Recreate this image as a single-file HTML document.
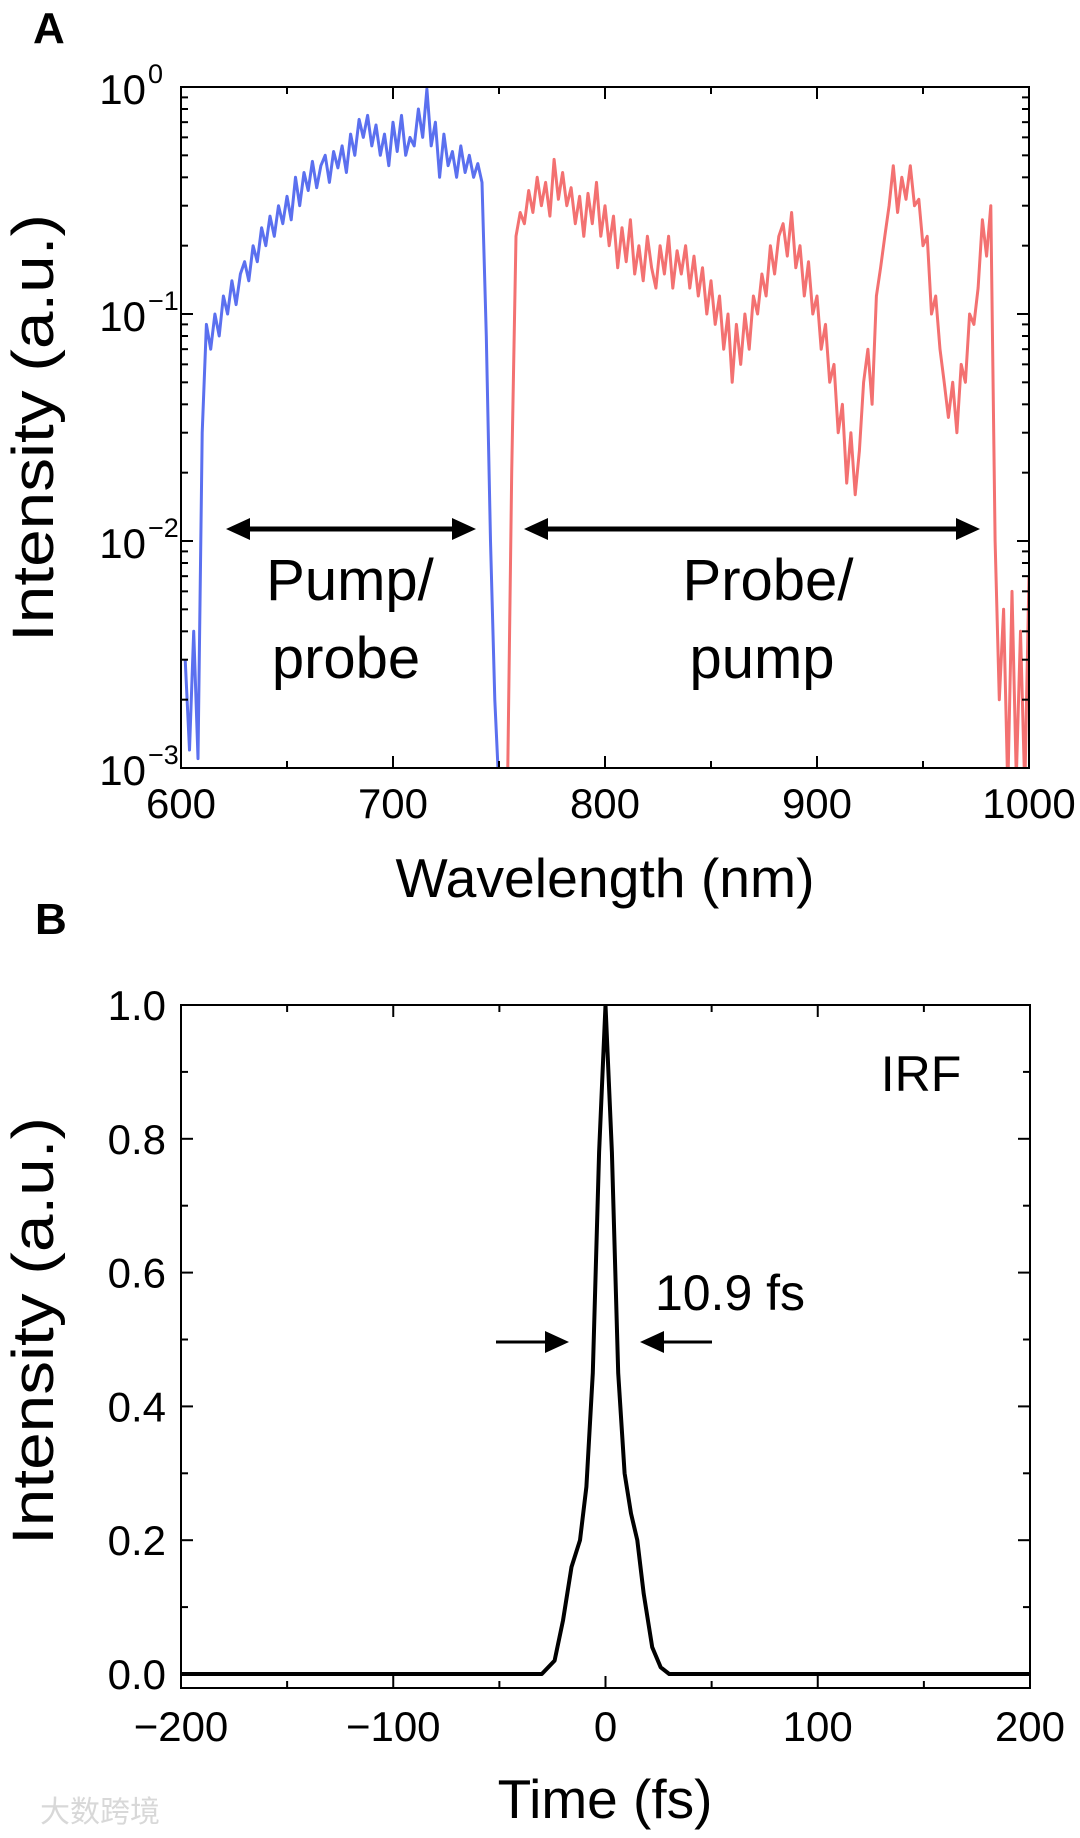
<!DOCTYPE html>
<html><head><meta charset="utf-8">
<style>
html,body{margin:0;padding:0;background:#fff;}
svg{display:block;font-family:"Liberation Sans","Noto Sans CJK SC",sans-serif;}
</style></head>
<body>
<svg id="fig" width="1080" height="1838" viewBox="0 0 1080 1838" xmlns="http://www.w3.org/2000/svg">
  <text x="33" y="43" font-size="44" font-weight="bold">A</text>
  <text x="35" y="934" font-size="44" font-weight="bold">B</text>
  <defs>
    <clipPath id="clipA"><rect x="181" y="87" width="848" height="681"/></clipPath>
    <clipPath id="clipB"><rect x="181" y="1005" width="849" height="683"/></clipPath>
  </defs>
  <g id="panelA"></g>
  <g id="panelB"></g>
  <text x="40" y="1822" font-size="30" fill="#d8d8d8">大数跨境</text>
</svg>
<script>
// ---------- Panel A data ----------
const blueWl = [602,604,606,608,610,612,614,616,618,620,622,624,626,628,630,632,634,636,638,640,642,644,646,648,650,652,654,656,658,660,662,664,666,668,670,672,674,676,678,680,682,684,686,688,690,692,694,696,698,700,702,704,706,708,710,712,714,716,718,720,722,724,726,728,730,732,734,736,738,740,742,744,746,748,750];
const blueVal = [0.003,0.0012,0.004,0.0011,0.03,0.09,0.07,0.1,0.08,0.12,0.10,0.14,0.11,0.15,0.17,0.14,0.2,0.17,0.24,0.2,0.27,0.22,0.3,0.25,0.33,0.26,0.4,0.3,0.42,0.35,0.47,0.36,0.45,0.5,0.38,0.52,0.44,0.55,0.42,0.62,0.5,0.72,0.6,0.75,0.55,0.68,0.5,0.62,0.45,0.7,0.52,0.75,0.5,0.6,0.55,0.8,0.6,0.98,0.55,0.7,0.4,0.62,0.45,0.52,0.4,0.55,0.42,0.5,0.4,0.46,0.38,0.08,0.01,0.002,0.0008];
const redWl = [754,756,758,760,762,764,766,768,770,772,774,776,778,780,782,784,786,788,790,792,794,796,798,800,802,804,806,808,810,812,814,816,818,820,822,824,826,828,830,832,834,836,838,840,842,844,846,848,850,852,854,856,858,860,862,864,866,868,870,872,874,876,878,880,882,884,886,888,890,892,894,896,898,900,902,904,906,908,910,912,914,916,918,920,922,924,926,928,930,932,934,936,938,940,942,944,946,948,950,952,954,956,958,960,962,964,966,968,970,972,974,976,978,980,982,984,986,988,990,992,994,996,998,1000];
const redVal = [0.0008,0.02,0.22,0.28,0.25,0.35,0.28,0.4,0.3,0.38,0.27,0.48,0.32,0.42,0.3,0.36,0.25,0.33,0.22,0.34,0.25,0.38,0.22,0.3,0.2,0.27,0.16,0.24,0.17,0.26,0.15,0.2,0.14,0.22,0.16,0.13,0.2,0.15,0.22,0.13,0.19,0.15,0.2,0.13,0.18,0.12,0.16,0.1,0.14,0.09,0.12,0.07,0.1,0.05,0.09,0.06,0.1,0.07,0.12,0.1,0.15,0.12,0.2,0.15,0.22,0.25,0.18,0.28,0.16,0.2,0.12,0.17,0.1,0.12,0.07,0.09,0.05,0.06,0.03,0.04,0.018,0.03,0.016,0.025,0.05,0.07,0.04,0.12,0.16,0.22,0.3,0.45,0.28,0.4,0.32,0.45,0.3,0.32,0.2,0.22,0.1,0.12,0.07,0.05,0.035,0.05,0.03,0.06,0.05,0.1,0.09,0.13,0.26,0.18,0.3,0.01,0.002,0.005,0.0008,0.006,0.0009,0.004,0.0008,0.007];
const aXTicks = [600,700,800,900,1000];
const aYDecades = [0,-1,-2,-3];
const aYLabels = ["0","\u22121","\u22122","\u22123"];

// ---------- Panel B data ----------
const irfT = [-200,-30,-24,-20,-16,-12,-9,-6,-3,0,3,6,9,12,15,18,22,26,30,200];
const irfVal = [0,0,0.02,0.08,0.16,0.2,0.28,0.45,0.78,1.0,0.78,0.45,0.3,0.24,0.2,0.12,0.04,0.01,0,0];
const bXTicks = [-200,-100,0,100,200];
const bXLabels = ["\u2212200","\u2212100","0","100","200"];
const bYTicks = [0,0.2,0.4,0.6,0.8,1.0];
const bYLabels = ["0.0","0.2","0.4","0.6","0.8","1.0"];

const NS = "http://www.w3.org/2000/svg";
function mk(parent, tag, attrs, text){
  const e = document.createElementNS(NS, tag);
  for (const k in attrs) e.setAttribute(k, attrs[k]);
  if (text !== undefined) e.textContent = text;
  parent.appendChild(e);
  return e;
}
const AL=181, AR=1029, AT=87, AB=768;
const axA = wl => AL + (wl-600)/400*(AR-AL);
const ayA = v => AT + (0 - Math.log10(Math.max(v,1e-4)))/3*(AB-AT);
const ayAlog = d => AT + (0-d)/3*(AB-AT);

const gA = document.getElementById('panelA');
function series(g, xs, ys, fx, fy, color, w, clip, name){
  let d = '';
  xs.forEach((x,i)=>{ d += (i?'L':'M') + fx(x).toFixed(1) + ' ' + fy(ys[i]).toFixed(1); });
  const p = mk(g,'path',{d:d, fill:'none', stroke:color, 'stroke-width':w, 'stroke-linejoin':'round', 'clip-path':clip});
  
  
}
series(gA, blueWl, blueVal, axA, ayA, '#5b70ef', 3, 'url(#clipA)', 'pump-probe-spectrum-line');
series(gA, redWl, redVal, axA, ayA, '#f37171', 3, 'url(#clipA)', 'probe-pump-spectrum-line');

const frameA = mk(gA,'rect',{x:AL,y:AT,width:AR-AL,height:AB-AT,fill:'none',stroke:'#000','stroke-width':2});



for (let wl=600; wl<=1000; wl+=50){
  const x = axA(wl); const len = (wl%100===0)?12:7;
  mk(gA,'line',{x1:x,y1:AB,x2:x,y2:AB-len,stroke:'#000','stroke-width':2});
  mk(gA,'line',{x1:x,y1:AT,x2:x,y2:AT+len,stroke:'#000','stroke-width':2});
}
aXTicks.forEach(wl=>{
  const t = mk(gA,'text',{x:axA(wl),y:818,'font-size':42,'text-anchor':'middle'}, String(wl));
  
  
});
for (let d=-3; d<0; d++){
  for (let m=1; m<10; m++){
    const y = ayAlog(d+Math.log10(m)); const len = m===1?12:7;
    mk(gA,'line',{x1:AL,y1:y,x2:AL+len,y2:y,stroke:'#000','stroke-width':2});
    mk(gA,'line',{x1:AR,y1:y,x2:AR-len,y2:y,stroke:'#000','stroke-width':2});
  }
}
aYDecades.forEach((d,i)=>{
  const y = ayAlog(d);
  const t = mk(gA,'text',{x:146,y:y+17,'font-size':42,'text-anchor':'end'}, '10');
  
  
  const s = mk(gA,'text',{x:148,y:y-4,'font-size':27,'text-anchor':'start'}, aYLabels[i]);
  
  
});
const xtA = mk(gA,'text',{x:605,y:897,'font-size':55,'text-anchor':'middle',textLength:419,lengthAdjust:'spacingAndGlyphs'},'Wavelength (nm)');


const ytA = mk(gA,'text',{x:0,y:0,'font-size':58,'text-anchor':'middle',transform:'translate(53,428) rotate(-90)',textLength:428,lengthAdjust:'spacingAndGlyphs'},'Intensity (a.u.)');



function dblArrow(g, x1, x2, y, name){
  const grp = mk(g,'g',{});
  
  
  mk(grp,'line',{x1:x1+18,y1:y,x2:x2-18,y2:y,stroke:'#000','stroke-width':5});
  mk(grp,'polygon',{points:`${x1},${y} ${x1+24},${y-11} ${x1+24},${y+11}`,fill:'#000'});
  mk(grp,'polygon',{points:`${x2},${y} ${x2-24},${y-11} ${x2-24},${y+11}`,fill:'#000'});
}
dblArrow(gA, 226, 476, 529, 'pump-probe-range-arrow');
dblArrow(gA, 524, 980, 529, 'probe-pump-range-arrow');
[['Pump/',350,600,'pump-probe-label'],['probe',346,678,'pump-probe-label-2'],['Probe/',768,600,'probe-pump-label'],['pump',762,678,'probe-pump-label-2']].forEach(a=>{
  const t = mk(gA,'text',{x:a[1],y:a[2],'font-size':58,'text-anchor':'middle'},a[0]);
  
  
});

const BL=181, BR=1030, BT=1005, BB=1688;
const axB = t => BL + (t+200)/400*(BR-BL);
const ayB = v => 1674 - v*(1674-BT);
const gB = document.getElementById('panelB');
series(gB, irfT, irfVal, axB, ayB, '#000', 4, 'url(#clipB)', 'irf-line');
const frameB = mk(gB,'rect',{x:BL,y:BT,width:BR-BL,height:BB-BT,fill:'none',stroke:'#000','stroke-width':2});


for (let t=-200; t<=200; t+=50){
  const x = axB(t); const len = (t%100===0)?12:7;
  mk(gB,'line',{x1:x,y1:BB,x2:x,y2:BB-len,stroke:'#000','stroke-width':2});
  mk(gB,'line',{x1:x,y1:BT,x2:x,y2:BT+len,stroke:'#000','stroke-width':2});
}
for (let k=0; k<=10; k++){
  const y = ayB(k/10); const len = (k%2===0)?12:7;
  mk(gB,'line',{x1:BL,y1:y,x2:BL+len,y2:y,stroke:'#000','stroke-width':2});
  mk(gB,'line',{x1:BR,y1:y,x2:BR-len,y2:y,stroke:'#000','stroke-width':2});
}
bXTicks.forEach((t,i)=>{
  const e = mk(gB,'text',{x:axB(t),y:1741,'font-size':42,'text-anchor':'middle'}, bXLabels[i]);
  
  
});
bYTicks.forEach((v,i)=>{
  const e = mk(gB,'text',{x:166,y:ayB(v)+15,'font-size':42,'text-anchor':'end'}, bYLabels[i]);
  
  
});
const xtB = mk(gB,'text',{x:605,y:1818,'font-size':55,'text-anchor':'middle'},'Time (fs)');


const ytB = mk(gB,'text',{x:0,y:0,'font-size':58,'text-anchor':'middle',transform:'translate(53,1331) rotate(-90)',textLength:428,lengthAdjust:'spacingAndGlyphs'},'Intensity (a.u.)');


const irfLbl = mk(gB,'text',{x:921,y:1091,'font-size':50,'text-anchor':'middle'},'IRF');


const fw = mk(gB,'text',{x:730,y:1310,'font-size':50,'text-anchor':'middle'},'10.9 fs');


function arrow(g, x1, x2, y, name){
  const grp = mk(g,'g',{});
  
  
  const dir = Math.sign(x2-x1);
  mk(grp,'line',{x1:x1,y1:y,x2:x2-dir*20,y2:y,stroke:'#000','stroke-width':3});
  mk(grp,'polygon',{points:`${x2},${y} ${x2-dir*24},${y-11} ${x2-dir*24},${y+11}`,fill:'#000'});
}
arrow(gB, 496, 569, 1342, 'fwhm-left-arrow');
arrow(gB, 712, 640, 1342, 'fwhm-right-arrow');
</script>
</body></html>
